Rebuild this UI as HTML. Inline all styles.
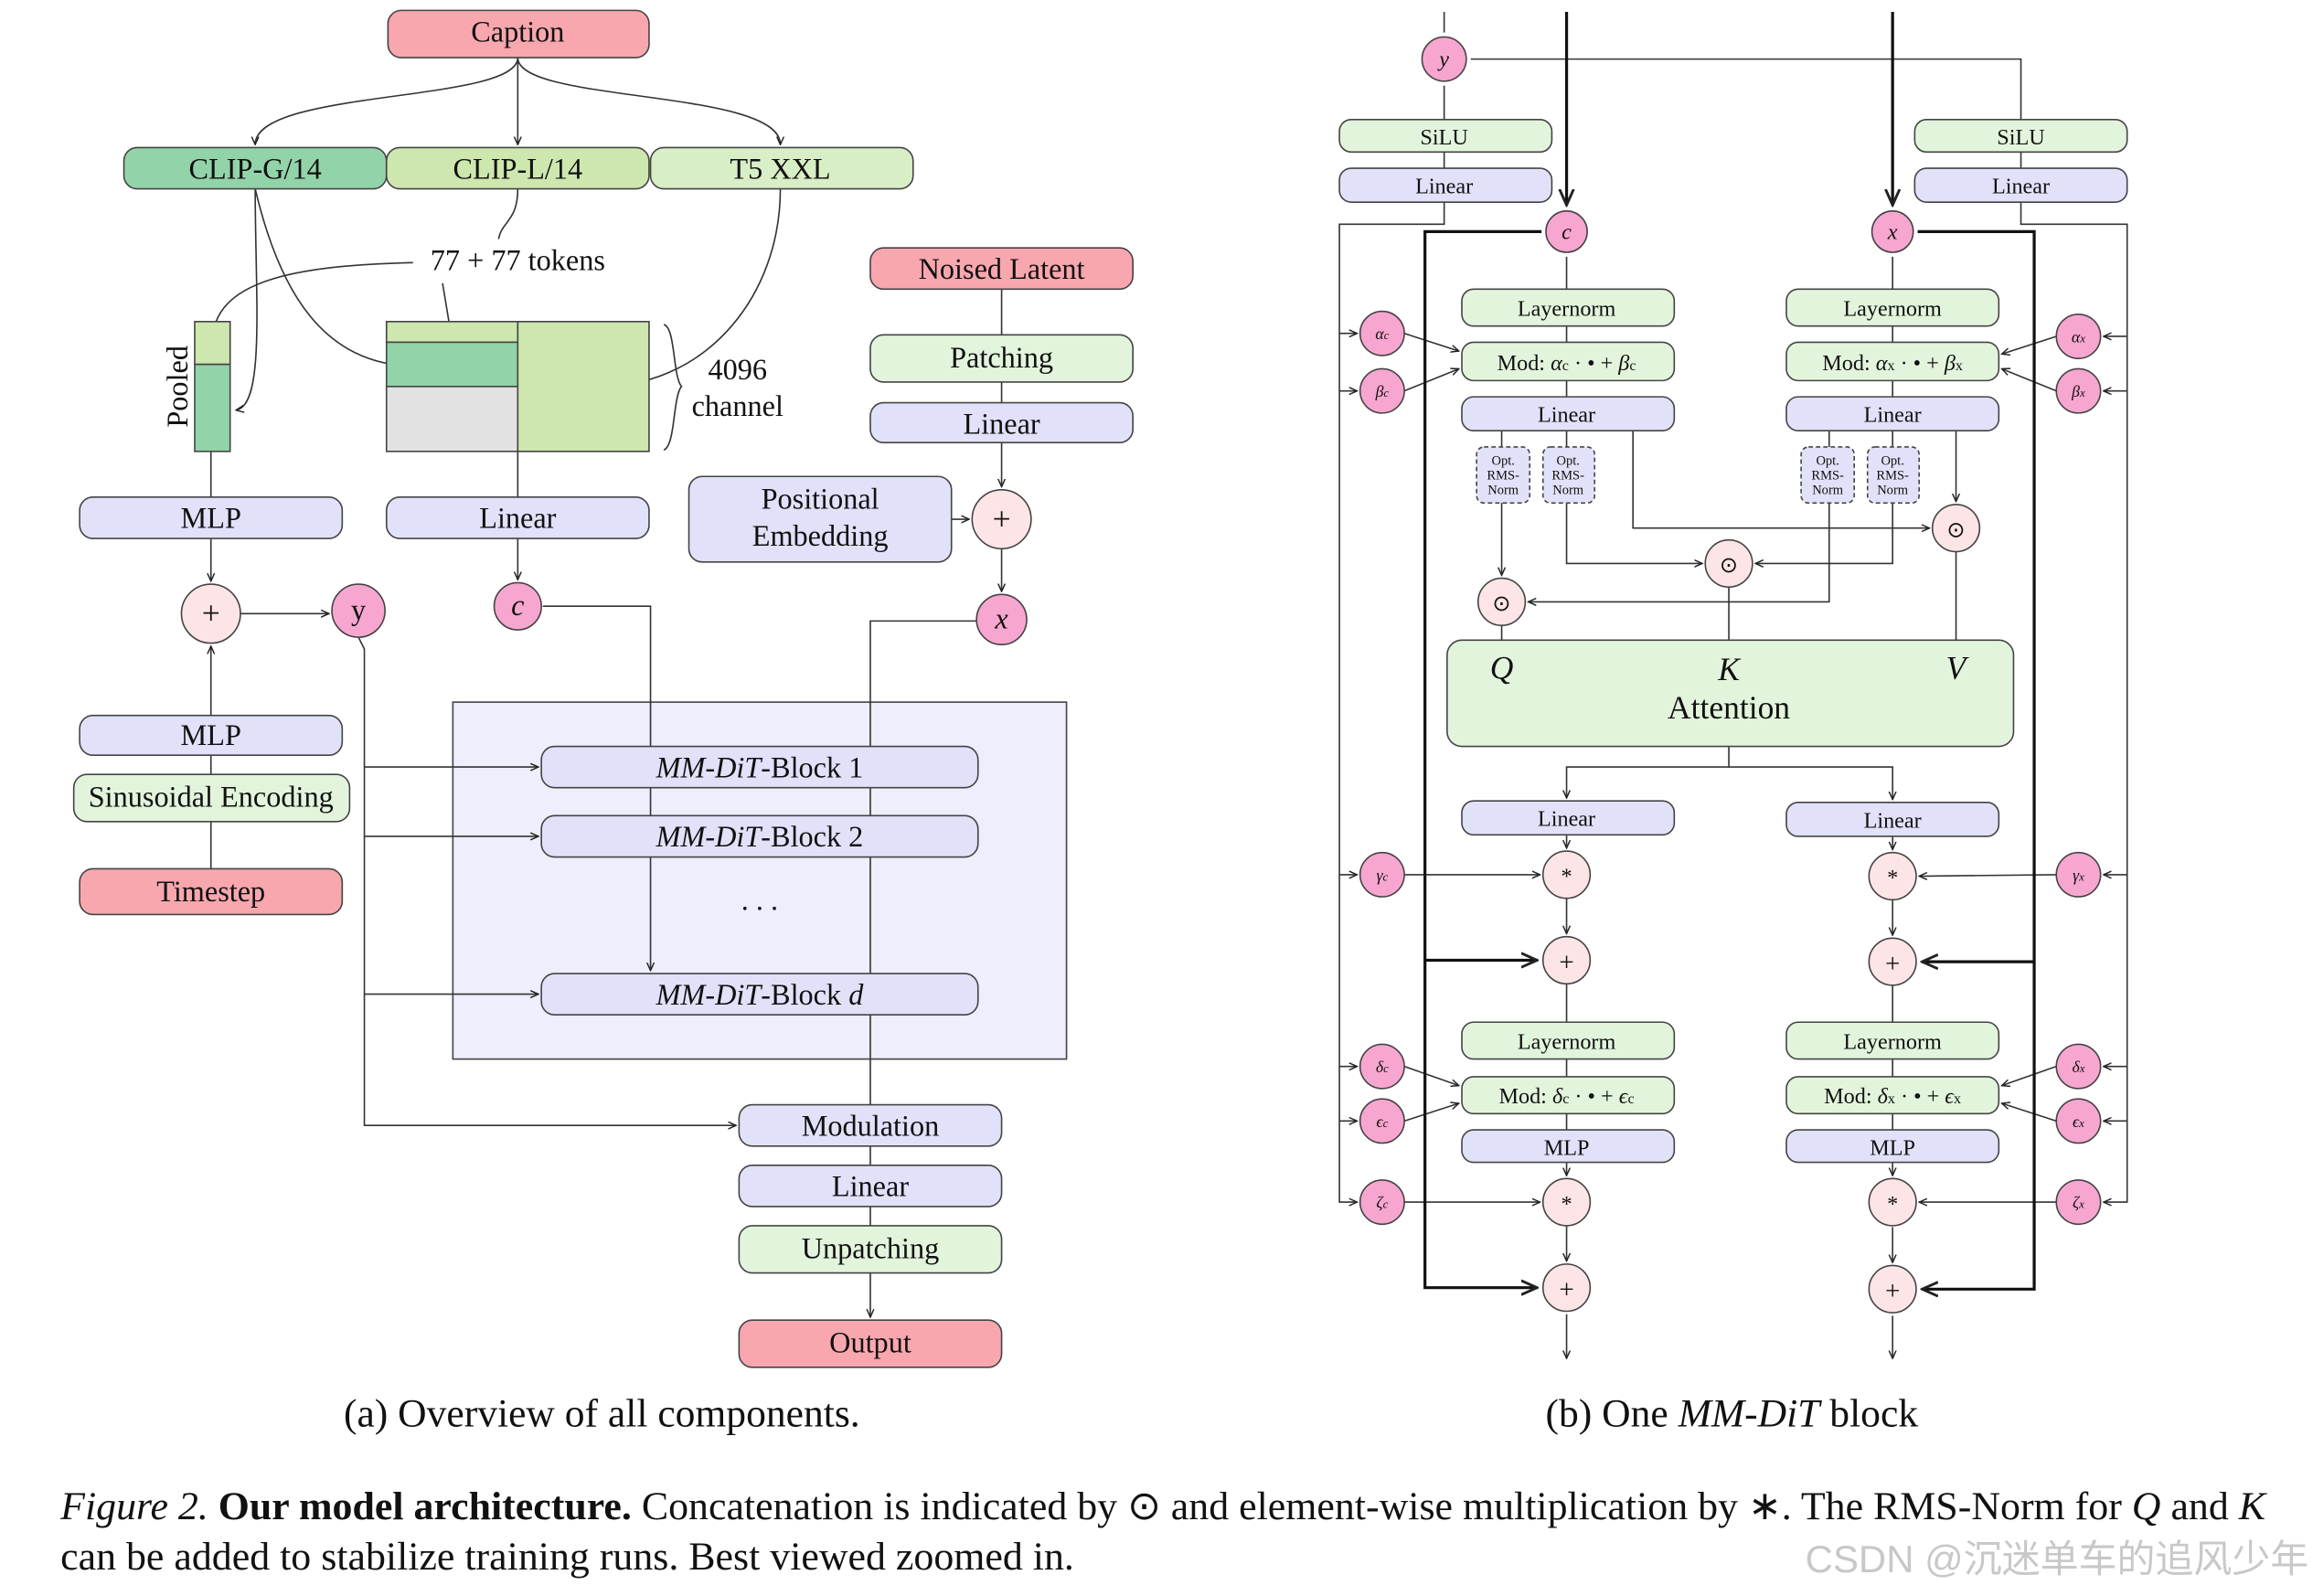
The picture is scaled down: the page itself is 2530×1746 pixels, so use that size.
<!DOCTYPE html>
<html><head><meta charset="utf-8"><style>
html,body{margin:0;padding:0;background:#fff}
svg{display:block}
text{font-family:"Liberation Serif",serif;fill:#111}
</style></head><body>
<svg width="2530" height="1746" viewBox="0 0 1568 1082" xmlns="http://www.w3.org/2000/svg">
<defs>
<marker id="a" viewBox="0 0 10 10" refX="9" refY="5" markerWidth="6" markerHeight="6" orient="auto"><path d="M0,1 L9,5 L0,9" fill="none" stroke="#222" stroke-width="1.5"/></marker>
</defs>
<rect x="307" y="476" width="416" height="242" fill="#eeeefc" stroke="#444" stroke-width="1"/>
<g stroke="#333" stroke-width="1" fill="none">
<!-- LEFT -->
<path d="M351,39 C351,70 173,60 173,98" marker-end="url(#a)"/>
<path d="M351,39 L351,98" marker-end="url(#a)"/>
<path d="M351,39 C351,70 529,60 529,98" marker-end="url(#a)"/>
<path d="M351,128 C351,150 340,150 338,162"/>
<path d="M300,192 L306,228" marker-end="url(#a)"/>
<path d="M280,178 C200,180 144,190 144,232" marker-end="url(#a)"/>
<path d="M173,128 C173,200 180,275 160,278" marker-end="url(#a)"/>
<path d="M173,128 C190,200 220,245 276,248" marker-end="url(#a)"/>
<path d="M529,128 C529,200 480,260 410,262" marker-end="url(#a)"/>
<path d="M450,220 C458,222 456,255 462,262 C456,269 458,302 450,305"/>
<path d="M143,306 L143,337"/>
<path d="M351,306 L351,337"/>
<path d="M143,365 L143,394" marker-end="url(#a)"/>
<path d="M143,485 L143,438" marker-end="url(#a)"/>
<path d="M143,525 L143,512"/><path d="M143,589 L143,557"/>
<path d="M163,416 L223,416" marker-end="url(#a)"/>
<path d="M351,365 L351,393" marker-end="url(#a)"/>
<path d="M368,411 L441,411 L441,506"/>
<path d="M243,432 L247,440 L247,763 L499,763" marker-end="url(#a)"/>
<path d="M247,520 L365,520" marker-end="url(#a)"/>
<path d="M247,567 L365,567" marker-end="url(#a)"/>
<path d="M247,674 L365,674" marker-end="url(#a)"/>
<path d="M441,534 L441,553"/><path d="M441,581 L441,658" marker-end="url(#a)"/>
<path d="M590,534 L590,553"/><path d="M590,581 L590,660"/>
<path d="M590,688 L590,749"/>
<path d="M679,196 L679,227"/><path d="M679,259 L679,273"/>
<path d="M679,300 L679,330" marker-end="url(#a)"/>
<path d="M645,352 L657,352" marker-end="url(#a)"/>
<path d="M679,372 L679,401" marker-end="url(#a)"/>
<path d="M662,421 L590,421 L590,506"/>
<path d="M590,777 L590,790"/><path d="M590,818 L590,831"/>
<path d="M590,863 L590,893" marker-end="url(#a)"/>
<!-- RIGHT -->
<path d="M979,8 L979,22"/>
<path d="M997,40 L1370,40 L1370,81"/>
<path d="M979,58 L979,81"/><path d="M979,103 L979,114"/>
<path d="M1370,103 L1370,114"/>
<path d="M979,137 L979,152 L908,152 L908,815 L920,815" marker-end="url(#a)"/>
<path d="M1370,137 L1370,152 L1442,152 L1442,815 L1426,815" marker-end="url(#a)"/>
<path d="M908,226 L920,226" marker-end="url(#a)"/><path d="M908,265 L920,265" marker-end="url(#a)"/>
<path d="M908,593 L920,593" marker-end="url(#a)"/><path d="M908,723 L920,723" marker-end="url(#a)"/><path d="M908,760 L920,760" marker-end="url(#a)"/>
<path d="M1442,228 L1426,228" marker-end="url(#a)"/><path d="M1442,265 L1426,265" marker-end="url(#a)"/>
<path d="M1442,593 L1426,593" marker-end="url(#a)"/><path d="M1442,723 L1426,723" marker-end="url(#a)"/><path d="M1442,760 L1426,760" marker-end="url(#a)"/>
<path d="M952,226 L989,238" marker-end="url(#a)"/><path d="M952,265 L989,250" marker-end="url(#a)"/>
<path d="M1394,228 L1357,240" marker-end="url(#a)"/><path d="M1394,265 L1357,250" marker-end="url(#a)"/>
<path d="M952,723 L989,736" marker-end="url(#a)"/><path d="M952,760 L989,748" marker-end="url(#a)"/>
<path d="M1394,723 L1357,736" marker-end="url(#a)"/><path d="M1394,760 L1357,748" marker-end="url(#a)"/>
<path d="M1062,174 L1062,196"/><path d="M1062,221 L1062,232"/><path d="M1062,258 L1062,269"/>
<path d="M1283,174 L1283,196"/><path d="M1283,221 L1283,232"/><path d="M1283,258 L1283,269"/>
<path d="M1018,292 L1018,390" marker-end="url(#a)"/>
<path d="M1062,292 L1062,382 L1154,382" marker-end="url(#a)"/>
<path d="M1107,292 L1107,358 L1308,358" marker-end="url(#a)"/>
<path d="M1240,292 L1240,408 L1036,408" marker-end="url(#a)"/>
<path d="M1283,292 L1283,382 L1190,382" marker-end="url(#a)"/>
<path d="M1326,292 L1326,340" marker-end="url(#a)"/>
<path d="M1018,424 L1018,434"/><path d="M1172,398 L1172,434"/><path d="M1326,374 L1326,434"/>
<path d="M1172,506 L1172,520 L1062,520 L1062,541" marker-end="url(#a)"/>
<path d="M1172,520 L1283,520 L1283,542" marker-end="url(#a)"/>
<path d="M1062,566 L1062,575" marker-end="url(#a)"/><path d="M1283,567 L1283,576" marker-end="url(#a)"/>
<path d="M952,593 L1044,593" marker-end="url(#a)"/><path d="M1394,593 L1301,594" marker-end="url(#a)"/>
<path d="M1062,609 L1062,633" marker-end="url(#a)"/><path d="M1283,610 L1283,634" marker-end="url(#a)"/>
<path d="M1062,667 L1062,693"/><path d="M1062,718 L1062,730"/><path d="M1062,755 L1062,766"/>
<path d="M1283,668 L1283,693"/><path d="M1283,718 L1283,730"/><path d="M1283,755 L1283,766"/>
<path d="M1062,788 L1062,797" marker-end="url(#a)"/><path d="M1283,788 L1283,797" marker-end="url(#a)"/>
<path d="M952,815 L1044,815" marker-end="url(#a)"/><path d="M1394,815 L1301,815" marker-end="url(#a)"/>
<path d="M1062,831 L1062,855" marker-end="url(#a)"/><path d="M1283,832 L1283,856" marker-end="url(#a)"/>
<path d="M1062,891 L1062,921" marker-end="url(#a)"/><path d="M1283,892 L1283,921" marker-end="url(#a)"/>
</g>
<g stroke="#111" stroke-width="2" fill="none">
<path d="M1062,8 L1062,139" marker-end="url(#a)"/><path d="M1283,8 L1283,139" marker-end="url(#a)"/>
<path d="M1045,157 L966,157 L966,873 L1042,873" marker-end="url(#a)"/>
<path d="M966,651 L1042,651" marker-end="url(#a)"/>
<path d="M1300,157 L1379,157 L1379,874 L1303,874" marker-end="url(#a)"/>
<path d="M1379,652 L1303,652" marker-end="url(#a)"/>
</g>
<!-- boxes -->
<g stroke="#444" stroke-width="1">
<rect x="263" y="7" width="177" height="32" rx="9" fill="#f8a7ae"/>
<rect x="84" y="100" width="178" height="28" rx="9" fill="#93d3a9"/>
<rect x="262" y="100" width="178" height="28" rx="9" fill="#cde7ae"/>
<rect x="441" y="100" width="178" height="28" rx="9" fill="#d8eec6"/>
<rect x="132" y="218" width="24" height="29" fill="#cde7ae"/><rect x="132" y="247" width="24" height="59" fill="#93d3a9"/>
<rect x="262" y="218" width="89" height="14" fill="#cde7ae"/><rect x="262" y="232" width="89" height="30" fill="#93d3a9"/>
<rect x="262" y="262" width="89" height="44" fill="#e2e2e2"/><rect x="351" y="218" width="89" height="88" fill="#cde7ae"/>
<g fill="#e1e1fa">
<rect x="54" y="337" width="178" height="28" rx="9"/><rect x="262" y="337" width="178" height="28" rx="9"/>
<rect x="54" y="485" width="178" height="27" rx="9"/>
<rect x="590" y="273" width="178" height="27" rx="9"/><rect x="467" y="323" width="178" height="58" rx="9"/>
<rect x="367" y="506" width="296" height="28" rx="9"/><rect x="367" y="553" width="296" height="28" rx="9"/><rect x="367" y="660" width="296" height="28" rx="9"/>
<rect x="501" y="749" width="178" height="28" rx="9"/><rect x="501" y="790" width="178" height="28" rx="9"/>
<rect x="908" y="114" width="144" height="23" rx="8"/><rect x="1298" y="114" width="144" height="23" rx="8"/>
<rect x="991" y="269" width="144" height="23" rx="8"/><rect x="1211" y="269" width="144" height="23" rx="8"/>
<rect x="991" y="543" width="144" height="23" rx="8"/><rect x="1211" y="544" width="144" height="23" rx="8"/>
<rect x="991" y="766" width="144" height="22" rx="8"/><rect x="1211" y="766" width="144" height="22" rx="8"/>
</g>
<g fill="#e2f5dc">
<rect x="50" y="525" width="187" height="32" rx="9"/><rect x="590" y="227" width="178" height="32" rx="9"/>
<rect x="501" y="831" width="178" height="32" rx="9"/>
<rect x="908" y="81" width="144" height="22" rx="8"/><rect x="1298" y="81" width="144" height="22" rx="8"/>
<rect x="991" y="196" width="144" height="25" rx="8"/><rect x="1211" y="196" width="144" height="25" rx="8"/>
<rect x="991" y="232" width="144" height="26" rx="8"/><rect x="1211" y="232" width="144" height="26" rx="8"/>
<rect x="981" y="434" width="384" height="72" rx="10"/>
<rect x="991" y="693" width="144" height="25" rx="8"/><rect x="1211" y="693" width="144" height="25" rx="8"/>
<rect x="991" y="730" width="144" height="25" rx="8"/><rect x="1211" y="730" width="144" height="25" rx="8"/>
</g>
<g fill="#f8a7ae">
<rect x="54" y="589" width="178" height="31" rx="9"/><rect x="590" y="168" width="178" height="28" rx="9"/>
<rect x="501" y="895" width="178" height="32" rx="9"/>
</g>
<g fill="#e1e1fa" stroke-dasharray="3,2">
<rect x="1001" y="303" width="36" height="38" rx="5"/><rect x="1046" y="303" width="35" height="38" rx="5"/>
<rect x="1221" y="303" width="36" height="38" rx="5"/><rect x="1266" y="303" width="35" height="38" rx="5"/>
</g>
<g fill="#fde4e6">
<circle cx="143" cy="416" r="20"/><circle cx="679" cy="352" r="20"/>
<circle cx="1018" cy="408" r="16"/><circle cx="1172" cy="382" r="16"/><circle cx="1326" cy="358" r="16"/>
<circle cx="1062" cy="593" r="16"/><circle cx="1283" cy="594" r="16"/>
<circle cx="1062" cy="651" r="16"/><circle cx="1283" cy="652" r="16"/>
<circle cx="1062" cy="815" r="16"/><circle cx="1283" cy="815" r="16"/>
<circle cx="1062" cy="873" r="16"/><circle cx="1283" cy="874" r="16"/>
</g>
<g fill="#f7a6d0">
<circle cx="243" cy="414" r="18"/><circle cx="351" cy="411" r="16"/><circle cx="679" cy="420" r="17"/>
<circle cx="979" cy="40" r="15"/><circle cx="1062" cy="157" r="14"/><circle cx="1283" cy="157" r="14"/>
<circle cx="937" cy="226" r="15"/><circle cx="937" cy="265" r="15"/><circle cx="1409" cy="228" r="15"/><circle cx="1409" cy="265" r="15"/>
<circle cx="937" cy="593" r="15"/><circle cx="1409" cy="593" r="15"/>
<circle cx="937" cy="723" r="15"/><circle cx="937" cy="760" r="15"/><circle cx="937" cy="815" r="15"/>
<circle cx="1409" cy="723" r="15"/><circle cx="1409" cy="760" r="15"/><circle cx="1409" cy="815" r="15"/>
</g>
</g>
<!-- text -->
<g font-size="20" text-anchor="middle">
<text x="351" y="28">Caption</text>
<text x="173" y="121">CLIP-G/14</text><text x="351" y="121">CLIP-L/14</text><text x="529" y="121">T5 XXL</text>
<text x="351" y="183">77 + 77 tokens</text>
<text x="500" y="257">4096</text><text x="500" y="282">channel</text>
<text transform="translate(127,262) rotate(-90)">Pooled</text>
<text x="143" y="358">MLP</text><text x="351" y="358">Linear</text>
<text x="143" y="505">MLP</text><text x="143" y="547">Sinusoidal Encoding</text><text x="143" y="611">Timestep</text>
<text x="679" y="189">Noised Latent</text><text x="679" y="249">Patching</text><text x="679" y="294">Linear</text>
<text x="556" y="345">Positional</text><text x="556" y="370">Embedding</text>
<text x="143" y="423" font-size="22">+</text><text x="679" y="359" font-size="22">+</text>
<text x="243" y="420">y</text><text x="351" y="417" font-style="italic">c</text><text x="679" y="426" font-style="italic">x</text>
<text x="515" y="527"><tspan font-style="italic">MM-DiT</tspan>-Block 1</text>
<text x="515" y="574"><tspan font-style="italic">MM-DiT</tspan>-Block 2</text>
<text x="515" y="617">. . .</text>
<text x="515" y="681"><tspan font-style="italic">MM-DiT</tspan>-Block <tspan font-style="italic">d</tspan></text>
<text x="590" y="770">Modulation</text><text x="590" y="811">Linear</text><text x="590" y="853">Unpatching</text><text x="590" y="917">Output</text>
<text x="408" y="967" font-size="27">(a) Overview of all components.</text>
<text x="1174" y="967" font-size="27">(b) One <tspan font-style="italic">MM-DiT</tspan> block</text>
</g>
<g font-size="15" text-anchor="middle">
<text x="979" y="45" font-style="italic">y</text>
<text x="979" y="98">SiLU</text><text x="1370" y="98">SiLU</text>
<text x="979" y="131">Linear</text><text x="1370" y="131">Linear</text>
<text x="1062" y="162" font-style="italic">c</text><text x="1283" y="162" font-style="italic">x</text>
<text x="1062" y="214">Layernorm</text><text x="1283" y="214">Layernorm</text>
<text x="1062" y="251">Mod: <tspan font-style="italic">α</tspan><tspan font-size="10">c</tspan> · • + <tspan font-style="italic">β</tspan><tspan font-size="10">c</tspan></text>
<text x="1283" y="251">Mod: <tspan font-style="italic">α</tspan><tspan font-size="10">x</tspan> · • + <tspan font-style="italic">β</tspan><tspan font-size="10">x</tspan></text>
<text x="1062" y="286">Linear</text><text x="1283" y="286">Linear</text>
<text x="1062" y="560">Linear</text><text x="1283" y="561">Linear</text>
<text x="1062" y="711">Layernorm</text><text x="1283" y="711">Layernorm</text>
<text x="1062" y="748">Mod: <tspan font-style="italic">δ</tspan><tspan font-size="10">c</tspan> · • + <tspan font-style="italic">ϵ</tspan><tspan font-size="10">c</tspan></text>
<text x="1283" y="748">Mod: <tspan font-style="italic">δ</tspan><tspan font-size="10">x</tspan> · • + <tspan font-style="italic">ϵ</tspan><tspan font-size="10">x</tspan></text>
<text x="1062" y="783">MLP</text><text x="1283" y="783">MLP</text>
<text x="1018" y="414">⊙</text><text x="1172" y="388">⊙</text><text x="1326" y="364">⊙</text>
<text x="1062" y="599">*</text><text x="1283" y="600">*</text><text x="1062" y="821">*</text><text x="1283" y="821">*</text>
<text x="1062" y="658" font-size="18">+</text><text x="1283" y="659" font-size="18">+</text>
<text x="1062" y="880" font-size="18">+</text><text x="1283" y="881" font-size="18">+</text>
</g>
<g font-size="11" text-anchor="middle" font-style="italic">
<text x="937" y="230">α<tspan font-size="8">c</tspan></text><text x="937" y="269">β<tspan font-size="8">c</tspan></text>
<text x="1409" y="232">α<tspan font-size="8">x</tspan></text><text x="1409" y="269">β<tspan font-size="8">x</tspan></text>
<text x="937" y="597">γ<tspan font-size="8">c</tspan></text><text x="1409" y="597">γ<tspan font-size="8">x</tspan></text>
<text x="937" y="727">δ<tspan font-size="8">c</tspan></text><text x="937" y="764">ϵ<tspan font-size="8">c</tspan></text><text x="937" y="819">ζ<tspan font-size="8">c</tspan></text>
<text x="1409" y="727">δ<tspan font-size="8">x</tspan></text><text x="1409" y="764">ϵ<tspan font-size="8">x</tspan></text><text x="1409" y="819">ζ<tspan font-size="8">x</tspan></text>
</g>
<g font-size="9" text-anchor="middle">
<text x="1019" y="315">Opt.</text><text x="1019" y="325">RMS-</text><text x="1019" y="335">Norm</text>
<text x="1063" y="315">Opt.</text><text x="1063" y="325">RMS-</text><text x="1063" y="335">Norm</text>
<text x="1239" y="315">Opt.</text><text x="1239" y="325">RMS-</text><text x="1239" y="335">Norm</text>
<text x="1283" y="315">Opt.</text><text x="1283" y="325">RMS-</text><text x="1283" y="335">Norm</text>
</g>
<g font-size="22" text-anchor="middle">
<text x="1018" y="460" font-style="italic">Q</text><text x="1172" y="461" font-style="italic">K</text><text x="1326" y="460" font-style="italic">V</text>
<text x="1172" y="487">Attention</text>
</g>
<text x="41" y="1030" font-size="27.2"><tspan font-style="italic">Figure 2.</tspan> <tspan font-weight="bold">Our model architecture.</tspan> Concatenation is indicated by ⊙ and element-wise multiplication by ∗. The RMS-Norm for <tspan font-style="italic">Q</tspan> and <tspan font-style="italic">K</tspan></text>
<text x="41" y="1064" font-size="27.2">can be added to stabilize training runs. Best viewed zoomed in.</text>
<text x="1565" y="1066" font-size="26" text-anchor="end" style="fill:#c8c8c8;font-family:'Liberation Sans','Noto Sans CJK SC',sans-serif">CSDN @沉迷单车的追风少年</text>
</svg>
</body></html>
